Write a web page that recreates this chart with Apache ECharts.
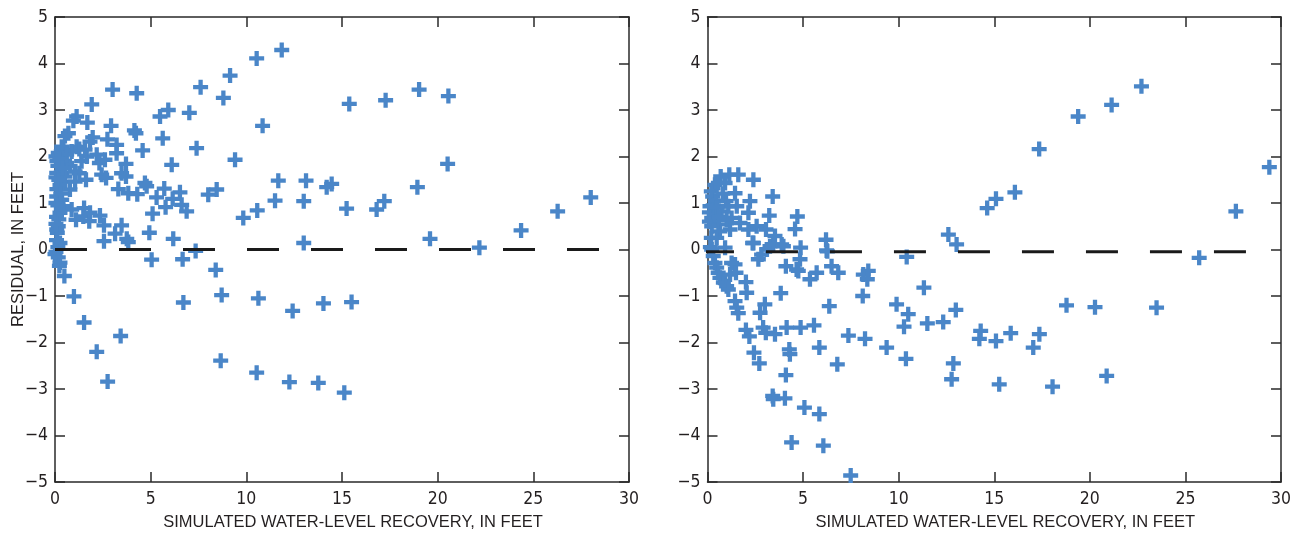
<!DOCTYPE html>
<html>
<head>
<meta charset="utf-8">
<script src="https://cdn.jsdelivr.net/npm/echarts@6/dist/echarts.min.js"></script>
<style>
html,body{margin:0;padding:0;background:#fff;}
#chart{width:1299px;height:533px;}
</style>
</head>
<body>
<div id="chart"></div>
<script>
// ---------- DATA ----------
const xTitle = 'SIMULATED WATER-LEVEL RECOVERY, IN FEET';
const yTitle = 'RESIDUAL, IN FEET';
const xTicks = [0, 5, 10, 15, 20, 25, 30];
const yTicks = [-5, -4, -3, -2, -1, 0, 1, 2, 3, 4, 5];

// left panel: [simulated recovery, residual]
const leftPoints = [
  [11.85,4.29],[10.54,4.11],[9.15,3.74],[7.61,3.49],[8.80,3.26],[3.01,3.44],[4.27,3.36],[1.92,3.12],
  [1.13,2.86],[0.96,2.77],[1.69,2.73],[5.92,3.0],[5.49,2.86],[7.02,2.94],[2.93,2.66],[10.85,2.66],
  [4.15,2.56],[4.23,2.5],[0.70,2.5],[0.52,2.44],[5.63,2.39],[1.97,2.41],[1.83,2.32],[2.74,2.37],
  [3.22,2.25],[4.58,2.13],[7.40,2.18],[3.22,2.07],[1.13,2.21],[1.27,2.16],[0.87,2.11],[0.44,2.14],
  [0.35,2.21],[2.18,2.04],[2.61,1.93],[1.66,2.0],[2.32,1.86],[9.41,1.93],[6.10,1.82],[3.71,1.84],
  [3.48,1.64],[3.71,1.57],[2.44,1.61],[2.67,1.54],[1.62,1.5],[1.27,1.64],[0.78,1.79],[0.61,1.86],
  [0.35,1.64],[0.52,1.46],[1.05,1.46],[11.67,1.48],[13.12,1.48],[14.2,1.34],[14.46,1.41],[4.70,1.43],
  [4.79,1.36],[3.31,1.3],[3.83,1.21],[4.30,1.19],[5.71,1.31],[5.31,1.12],[6.53,1.23],[8.45,1.29],
  [8.01,1.18],[6.15,1.09],[5.78,0.91],[6.62,0.96],[6.88,0.82],[11.50,1.05],[13.0,1.04],[10.57,0.84],
  [9.84,0.68],[5.10,0.77],[4.93,0.36],[3.48,0.52],[3.14,0.34],[2.56,0.52],[2.35,0.73],[2.56,0.18],
  [3.75,0.23],[3.83,0.16],[6.18,0.23],[13.0,0.14],[1.52,0.89],[1.48,0.71],[1.79,0.61],[1.83,0.79],
  [1.10,0.64],[0.87,0.86],[0.44,0.93],[0.35,1.07],[0.26,0.79],[0.17,0.5],[0.12,0.36],
  [0.17,2.08],[0.61,2.04],[1.57,2.15],[1.39,1.9],[0.09,1.65],[0.52,1.57],[1.05,1.68],[0.26,1.39],
  [0.78,1.29],[0.09,1.14],[0.09,0.43],[0.26,0.14],
  [0.05,2.0],[0.1,1.9],[0.15,1.8],[0.05,1.55],[0.2,1.5],[0.1,1.3],[0.05,1.0],[0.15,0.95],
  [0.08,0.7],[0.2,0.65],[0.05,0.55],[0.3,1.2],[0.25,1.95],[0.4,1.75],[0.08,0.2],[0.15,0.05],[0.05,-0.05],
  [0.0,-0.1],[0.17,-0.17],[0.26,-0.28],[0.23,-0.35],[0.49,-0.57],[0.99,-1.01],[1.52,-1.57],[2.18,-2.2],
  [2.75,-2.84],[3.43,-1.86],[5.05,-0.22],[6.67,-0.21],[7.35,-0.03],[8.40,-0.44],[8.71,-0.98],[6.71,-1.14],
  [8.66,-2.39],[10.63,-1.05],[10.54,-2.65],[12.42,-1.32],[12.25,-2.85],[13.76,-2.87],[14.03,-1.16],
  [15.5,-1.13],[15.12,-3.08],[22.18,0.04],[19.6,0.23],
  [15.38,3.13],[17.28,3.21],[19.03,3.44],[20.56,3.3],[20.52,1.84],[18.94,1.34],[15.24,0.88],[16.81,0.86],
  [17.21,1.04],[24.36,0.41],[26.27,0.82],[28.0,1.12]
];

// right panel: [simulated recovery, residual]
const rightPoints = [
  [1.14,1.61],[1.61,1.61],[0.69,1.57],[2.40,1.5],[0.39,1.39],[0.92,1.43],[0.27,1.14],[1.44,1.21],
  [3.41,1.14],[2.22,1.04],[0.97,1.04],[1.53,0.93],[0.13,0.93],[2.14,0.79],[0.74,0.82],[3.23,0.73],
  [4.70,0.71],[0.22,0.68],[1.26,0.68],[2.57,0.5],[1.70,0.57],[4.58,0.44],[3.06,0.43],[3.53,0.29],
  [6.20,0.21],[2.40,0.14],[3.88,0.11],[3.27,0.07],[4.87,0.04],[12.6,0.32],[13.03,0.11],[0.65,0.39],
  [1.18,0.43],[0.48,0.25],[0.92,0.04],[6.23,-0.02],[10.42,-0.16],[1.09,0.93],[1.0,0.64],[0.57,0.54],
  [0.22,0.5],[2.14,0.43],[0.57,1.43],[0.2,1.25],
  [0.1,0.8],[0.3,0.95],[0.45,1.05],[0.1,0.6],[0.35,0.75],[0.5,0.9],[0.8,1.2],[0.6,0.7],[0.2,0.25],[0.15,0.05],
  [22.70,3.51],[21.14,3.11],[19.39,2.86],[17.35,2.16],[16.08,1.23],[15.09,1.09],[14.63,0.89],[29.39,1.77],
  [27.64,0.82],[25.72,-0.18],
  [0.22,0.0],[0.30,-0.14],[0.39,-0.29],[0.48,-0.39],[0.56,-0.5],[0.65,-0.61],[0.83,-0.71],[1.0,-0.79],
  [1.09,-0.86],[1.44,-0.32],[1.49,-0.5],[1.18,-0.54],[1.26,-0.29],[2.66,-0.21],[2.83,-0.11],[2.01,-0.7],
  [2.05,-0.93],[1.44,-1.11],[1.53,-1.25],[1.61,-1.37],[2.01,-1.73],[2.19,-1.87],[2.43,-2.22],[2.71,-2.45],
  [2.75,-1.36],[3.0,-1.18],[2.91,-1.68],[3.05,-1.79],[3.53,-1.82],[3.83,-0.94],[4.10,-0.36],[4.14,-1.68],
  [4.28,-2.15],[4.31,-2.25],[4.10,-2.70],[3.41,-3.15],[3.44,-3.22],[4.05,-3.2],[4.40,-4.15],[4.87,-1.68],
  [5.07,-3.40],[5.57,-1.63],[5.85,-2.11],[5.85,-3.54],[6.06,-4.22],[6.37,-1.22],[6.79,-2.47],[7.37,-1.85],
  [7.49,-4.86],[8.24,-1.92],[8.12,-1.0],[9.37,-2.11],[9.89,-1.18],[10.5,-1.39],[10.28,-1.66],[10.38,-2.35],
  [11.32,-0.82],[11.5,-1.59],[12.33,-1.56],[12.99,-1.30],[12.86,-2.45],[12.77,-2.79],[4.66,-0.43],[4.84,-0.21],
  [4.75,-0.46],[5.36,-0.64],[5.71,-0.5],[6.27,-0.04],[6.49,-0.36],[6.84,-0.5],[8.15,-0.54],[8.41,-0.46],
  [8.36,-0.64],[3.10,0.0],[3.44,0.11],[3.97,0.07],[2.36,0.14],
  [18.78,-1.20],[20.27,-1.24],[23.49,-1.25],[14.29,-1.75],[14.22,-1.92],[15.09,-1.97],[15.86,-1.8],
  [17.36,-1.82],[17.04,-2.11],[15.26,-2.90],[18.05,-2.95],[20.88,-2.72]
];

// zero-residual reference lines [x, y]
const leftZero = [[0, 0], [28.5, 0]];
const rightZero = [[-0.29, -0.05], [28.2, -0.05]];

// ---------- STYLE ----------
const BLUE = '#4a86c8';
const INK = '#231f20';
const AXIS = '#2a2a2a';
const TICK_FONT = '"Liberation Sans Narrow", "DejaVu Sans Condensed", "Liberation Sans", sans-serif';
const NAME_FONT = '"Liberation Sans", Arial, sans-serif';
const PLUS = 'path://M5,0H9V5H14V9H9V14H5V9H0V5H5Z';
const minus = v => String(v).replace('-', '\u2212');

const step = xTicks[1] - xTicks[0];
const ystep = yTicks[1] - yTicks[0];

function xAx(grid, main) {
  return {
    type: 'value', gridIndex: grid, position: main ? 'bottom' : 'top',
    min: xTicks[0], max: xTicks[xTicks.length - 1], interval: step,
    axisLine: { show: true, onZero: false, lineStyle: { color: AXIS, width: 1.5 } },
    axisTick: { show: true, inside: true, length: 10, lineStyle: { color: AXIS, width: 1.5 } },
    axisLabel: { show: main, color: INK, fontFamily: TICK_FONT, fontSize: 17.5, margin: 8 },
    splitLine: { show: false },
    name: main ? xTitle : '', nameLocation: 'middle', nameGap: 32, nameMoveOverlap: false,
    nameTextStyle: { color: INK, fontFamily: NAME_FONT, fontSize: 16.5, padding: [0, 0, 0, 22] }
  };
}
function yAx(grid, main, withName) {
  return {
    type: 'value', gridIndex: grid, position: main ? 'left' : 'right',
    min: yTicks[0], max: yTicks[yTicks.length - 1], interval: ystep,
    axisLine: { show: true, onZero: false, lineStyle: { color: AXIS, width: 1.5 } },
    axisTick: { show: true, inside: true, length: 10, lineStyle: { color: AXIS, width: 1.5 } },
    axisLabel: { show: main, color: INK, fontFamily: TICK_FONT, fontSize: 17.5, margin: 7, formatter: minus },
    splitLine: { show: false },
    name: withName ? yTitle : '', nameLocation: 'middle', nameGap: 28, nameRotate: 90, nameMoveOverlap: false,
    nameTextStyle: { color: INK, fontFamily: NAME_FONT, fontSize: 16.5 }
  };
}
function zeroLine(xi, yi, data) {
  return {
    type: 'line', xAxisIndex: xi, yAxisIndex: yi, data: data, symbol: 'none', silent: true,
    lineStyle: { color: '#1a1a1a', width: 3, type: [32, 32] }, animation: false, clip: true
  };
}
function scatter(xi, yi, data) {
  return {
    type: 'scatter', xAxisIndex: xi, yAxisIndex: yi, data: data, symbol: PLUS, symbolSize: 15,
    itemStyle: { color: BLUE, opacity: 1 }, animation: false, clip: false
  };
}

const chart = echarts.init(document.getElementById('chart'), null, { renderer: 'canvas' });
chart.setOption({
  backgroundColor: '#fff',
  animation: false,
  grid: [
    { left: 55, right: 670, top: 17, bottom: 51, containLabel: false, outerBoundsMode: 'none' },
    { left: 707.5, right: 18, top: 17, bottom: 51, containLabel: false, outerBoundsMode: 'none' }
  ],
  xAxis: [xAx(0, true), xAx(0, false), xAx(1, true), xAx(1, false)],
  yAxis: [yAx(0, true, true), yAx(0, false, false), yAx(1, true, false), yAx(1, false, false)],
  series: [
    zeroLine(0, 0, leftZero),
    zeroLine(2, 2, rightZero),
    scatter(0, 0, leftPoints),
    scatter(2, 2, rightPoints)
  ]
});
</script>
</body>
</html>
